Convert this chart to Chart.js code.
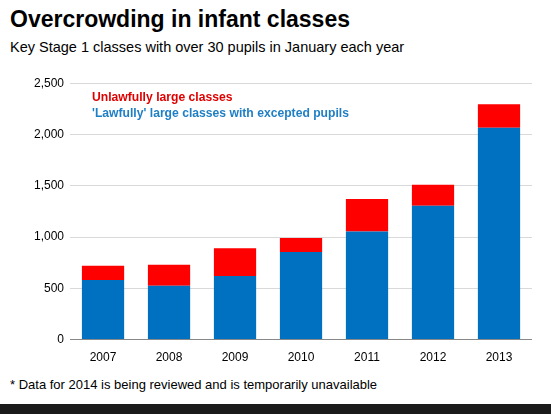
<!DOCTYPE html>
<html><head><meta charset="utf-8">
<script src="https://cdn.jsdelivr.net/npm/chart.js@4"></script>
<style>
body{margin:0;width:551px;height:414px;overflow:hidden;background:#fff;font-family:Arial,"Liberation Sans",sans-serif;position:relative}
#t{position:absolute;left:10px;top:6px;font-size:23px;font-weight:bold;color:#000}
#s{position:absolute;left:10px;top:39px;font-size:14.5px;color:#000}
#f{position:absolute;left:10px;top:377px;font-size:13px;color:#000}
#bar{position:absolute;left:0;top:404px;width:551px;height:10px;background:#1a1a1a}
#cw{position:absolute;left:0;top:70px;width:532px;height:298px}
.lg{position:absolute;left:92px;font-size:13.5px;font-weight:bold;font-family:"Liberation Sans",Arial,sans-serif;transform-origin:0 0;white-space:nowrap}
</style></head><body>
<div id="t">Overcrowding in infant classes</div>
<div id="s">Key Stage 1 classes with over 30 pupils in January each year</div>
<div id="cw"><canvas id="c"></canvas></div>
<div class="lg" style="top:89px;color:#e00000;transform:scaleX(0.9)">Unlawfully large classes</div>
<div class="lg" style="top:105px;color:#1f7fc4;transform:scaleX(0.9)">'Lawfully' large classes with excepted pupils</div>
<div id="f">* Data for 2014 is being reviewed and is temporarily unavailable</div>
<div id="bar"></div>
<script>
const years=['2007','2008','2009','2010','2011','2012','2013'];
const lawful=[580,525,620,855,1055,1305,2065];
const total=[720,730,890,990,1370,1510,2295];
const unlawful=total.map((t,i)=>t-lawful[i]);
new Chart(document.getElementById('c'),{type:'bar',
data:{labels:years,datasets:[
{label:'Lawful',data:lawful,backgroundColor:'#0070c0',barPercentage:0.64,categoryPercentage:1},
{label:'Unlawful',data:unlawful,backgroundColor:'#ff0000',barPercentage:0.64,categoryPercentage:1}]},
options:{responsive:true,maintainAspectRatio:false,animation:false,
layout:{padding:{left:28,top:4,right:0}},
plugins:{legend:{display:false},tooltip:{enabled:false}},
scales:{x:{stacked:true,grid:{display:false},border:{color:'#888'},ticks:{color:'#000',font:{size:12}}},
y:{stacked:true,min:0,max:2500,ticks:{stepSize:500,color:'#000',font:{size:12},padding:6,callback:v=>v.toLocaleString('en-US')},grid:{color:'#d9d9d9',drawTicks:false},border:{display:false}}}}});
</script></body></html>
